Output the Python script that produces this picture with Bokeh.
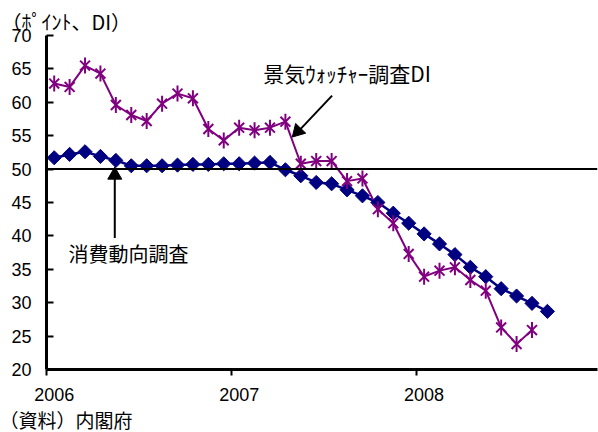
import numpy as np
from bokeh.plotting import figure
from bokeh.models import (Range1d, LinearAxis, FixedTicker, Span, Label, Arrow,
                          Title, ColumnDataSource)
from bokeh.embed import file_html
from bokeh.resources import INLINE

# ---- data ----
years = ["2006", "2007", "2008"]
year_starts = [0, 12, 24]          # months since Jan 2006
y_ticks = [20, 25, 30, 35, 40, 45, 50, 55, 60, 65, 70]

# 消費動向調査 (monthly, Jan 2006 - Sep 2008)
consumer = [51.7, 52.2, 52.6, 51.9, 51.3, 50.5, 50.5, 50.5, 50.6, 50.7, 50.7, 50.8,
            50.8, 50.9, 51.0, 49.9, 49.0, 48.0, 47.8, 46.9, 46.0, 45.0, 43.4, 41.9,
            40.3, 38.8, 37.2, 35.3, 33.9, 32.1, 31.0, 29.9, 28.7]
# 景気ウォッチャー調査DI (monthly, Jan 2006 - Aug 2008)
watcher = [62.8, 62.3, 65.5, 64.3, 59.6, 58.1, 57.2, 59.8, 61.3, 60.6, 56.0, 54.3,
           56.2, 55.8, 56.2, 57.1, 50.8, 51.2, 51.2, 48.2, 48.6, 44.0, 41.9, 37.3,
           33.9, 34.8, 35.3, 33.4, 31.8, 26.3, 23.8, 25.9]
reference_level = 50

consumer_label = "消費動向調査"
watcher_label = "景気ｳｫｯﾁｬｰ調査DI"
unit_label = "（ﾎﾟｲﾝﾄ、DI）"
source_label = "（資料）内閣府"

# month positions (centre of each month, months since Jan 2006)
cx = [i + 0.5 for i in range(len(consumer))]
wx = [i + 0.5 for i in range(len(watcher))]

NAVY = "#000080"
PURPLE = "#800080"
JP = "Noto Sans CJK JP"
NUM = "Liberation Sans"

p = figure(width=598, height=432, output_backend="svg", toolbar_location=None,
           x_range=Range1d(0, 35.75), y_range=Range1d(20, 70),
           min_border_left=46, min_border_right=1, min_border_top=35,
           min_border_bottom=0)
p.xgrid.grid_line_color = None
p.ygrid.grid_line_color = None
p.outline_line_alpha = 0

# y axis
p.yaxis.ticker = FixedTicker(ticks=y_ticks)
p.yaxis.major_tick_in = 7
p.yaxis.major_tick_out = 0
p.yaxis.minor_tick_line_color = None
p.yaxis.axis_line_width = 3
p.yaxis.axis_line_color = "black"
p.yaxis.major_tick_line_width = 2
p.yaxis.major_tick_line_color = "black"
p.yaxis.major_label_text_font = NUM
p.yaxis.major_label_text_font_size = "18px"
p.yaxis.major_label_standoff = 15
p.yaxis.major_label_text_color = "black"

# x axis: line and ticks at year boundaries
p.xaxis.ticker = FixedTicker(ticks=year_starts)
p.xaxis.major_tick_in = 0
p.xaxis.major_tick_out = 6
p.xaxis.minor_tick_line_color = None
p.xaxis.axis_line_width = 3
p.xaxis.axis_line_color = "black"
p.xaxis.major_tick_line_width = 2
p.xaxis.major_tick_line_color = "black"
p.xaxis.major_label_overrides = {t: "" for t in year_starts}
p.xaxis.major_label_standoff = 0
p.xaxis.major_label_text_font_size = "1px"

# x axis: year labels under January of each year
label_pos = [t + 0.5 for t in year_starts]
xaxis_labels = LinearAxis(ticker=FixedTicker(ticks=label_pos), axis_line_color=None,
                          major_tick_line_color=None, minor_tick_line_color=None,
                          major_tick_in=0, major_tick_out=0,
                          major_label_overrides={pos: y for pos, y in zip(label_pos, years)},
                          major_label_text_font=NUM, major_label_text_font_size="18px",
                          major_label_text_color="black",
                          major_label_standoff=12)
p.add_layout(xaxis_labels, "below")

p.add_layout(Title(text=source_label, align="left", offset=-47, text_font=JP,
                   text_font_size="19px", text_font_style="normal", standoff=0,
                   text_color="black"), "below")
p.add_layout(Title(text=unit_label, align="left", offset=-45, text_font=JP,
                   text_font_size="20px", text_font_style="normal", standoff=0,
                   text_color="black"), "above")

# reference line at 50
p.add_layout(Span(location=reference_level, dimension="width", line_color="black",
                  line_width=2))

# series lines
src_c = ColumnDataSource(dict(x=cx, y=consumer))
src_w = ColumnDataSource(dict(x=wx, y=watcher))
p.line("x", "y", source=src_c, line_color=NAVY, line_width=2.5)
p.line("x", "y", source=src_w, line_color=PURPLE, line_width=2)

# annotations: texts, arrow shafts (no head) and triangle heads
p.add_layout(Label(x=1.43, y=37.35, text=consumer_label, text_font=JP,
                   text_font_size="20px", text_baseline="middle", text_align="left",
                   text_color="black"))
p.add_layout(Label(x=14.07, y=64.43, text=watcher_label, text_font=JP,
                   text_font_size="21px", text_baseline="middle", text_align="left",
                   text_color="black"))
arrow_shafts = ColumnDataSource(dict(x0=[4.43, 18.53], y0=[39.7, 61.0],
                                     x1=[4.43, 16.4], y1=[49.0, 55.8]))
p.add_layout(Arrow(start=None, end=None, source=arrow_shafts, x_start="x0",
                   y_start="y0", x_end="x1", y_end="y1", line_color="black",
                   line_width=2))
arrow_heads = ColumnDataSource(dict(x=[4.43, 16.31], y=[49.1, 55.67],
                                    angle=[0.0, 2.377]))
p.scatter("x", "y", source=arrow_heads, marker="triangle", angle="angle", size=14,
          fill_color="black", line_color="black", line_width=1)

# markers
p.scatter("x", "y", source=src_c, marker="square", angle=np.pi / 4, size=10,
          fill_color=NAVY, line_color=NAVY, line_width=1)
p.scatter("x", "y", source=src_w, marker="x", size=14, line_color=PURPLE, line_width=2)
p.scatter("x", "y", source=src_w, marker="dash", angle=np.pi / 2, size=16,
          line_color=PURPLE, line_width=2)

open("out.html", "w").write(file_html(p, INLINE))
